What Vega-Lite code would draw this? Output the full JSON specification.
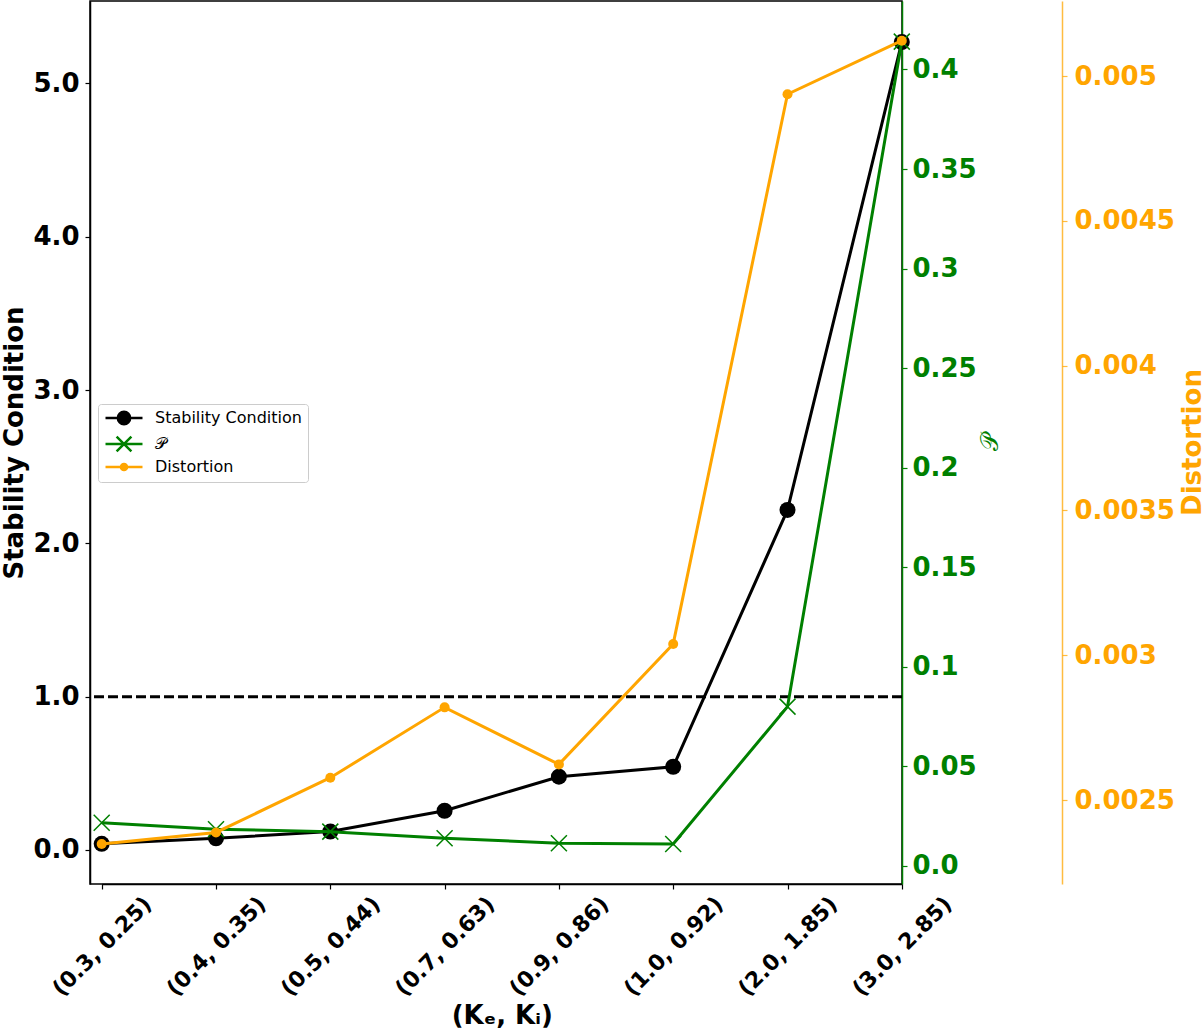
{
  "$schema": "https://vega.github.io/schema/vega-lite/v6.json",
  "width": 812,
  "height": 883,
  "autosize": {"type": "none"},
  "padding": {"left": 90, "top": 1, "right": 302, "bottom": 146},
  "background": "white",
  "datasets": {
    "main": [
      {"pair": "(0.3, 0.25)", "stability": 0.04, "P": 0.0216, "distortion": 0.002348},
      {"pair": "(0.4, 0.35)", "stability": 0.076, "P": 0.0183, "distortion": 0.002388},
      {"pair": "(0.5, 0.44)", "stability": 0.12, "P": 0.0171, "distortion": 0.002577},
      {"pair": "(0.7, 0.63)", "stability": 0.256, "P": 0.0138, "distortion": 0.00282},
      {"pair": "(0.9, 0.86)", "stability": 0.478, "P": 0.0113, "distortion": 0.002623},
      {"pair": "(1.0, 0.92)", "stability": 0.543, "P": 0.0109, "distortion": 0.003039},
      {"pair": "(2.0, 1.85)", "stability": 2.218, "P": 0.0799, "distortion": 0.004937},
      {"pair": "(3.0, 2.85)", "stability": 5.27, "P": 0.414, "distortion": 0.005122}
    ],
    "legend": [
      {"series": "Stability Condition"},
      {"series": "𝒫"},
      {"series": "Distortion"}
    ],
    "threshold": [{"level": 1.0}]
  },
  "config": {
    "font": "DejaVu Sans",
    "view": {"stroke": "black", "strokeWidth": 1.5},
    "axis": {"grid": false, "labelFont": "DejaVu Sans", "titleFont": "DejaVu Sans", "labelFontSize": 26, "labelFontWeight": "bold", "titleFontSize": 26, "titleFontWeight": "bold", "tickSize": 5, "tickWidth": 1.2, "domainWidth": 1.5, "labelOverlap": false, "labelBound": false, "labelFlush": false}
  },
  "layer": [
    {
      "layer": [
        {
          "data": {"name": "threshold"},
          "mark": {"type": "rule", "color": "black", "strokeWidth": 3, "strokeDash": [10, 4]},
          "encoding": {"y": {"field": "level", "type": "quantitative"}}
        },
        {
          "data": {"name": "main"},
          "mark": {"type": "line", "color": "black", "strokeWidth": 3, "point": {"filled": true, "size": 256, "color": "black", "opacity": 1}},
          "encoding": {
            "x": {"field": "pair", "type": "ordinal", "sort": null, "scale": {"type": "point", "padding": 0, "range": [11.7, 811.8]},
              "axis": {"title": "(Kₑ, Kᵢ)", "labelFontSize": 22, "labelAngle": -45, "labelAlign": "center", "labelBaseline": "middle", "labelPadding": 57, "titleY": 131, "titleBaseline": "middle", "domainColor": "black", "tickColor": "black", "labelColor": "black", "titleColor": "black"}},
            "y": {"field": "stability", "type": "quantitative", "scale": {"domain": [-0.222, 5.538], "nice": false, "zero": false},
              "axis": {"title": "Stability Condition", "orient": "left", "values": [0, 1, 2, 3, 4, 5], "format": ".1f", "labelPadding": 6, "titlePadding": 5, "domainColor": "black", "tickColor": "black", "labelColor": "black", "titleColor": "black"}}
          }
        }
      ]
    },
    {
      "data": {"name": "main"},
      "mark": {"type": "line", "color": "#008000", "strokeWidth": 3, "point": {"shape": "M-1,-1L1,1M-1,1L1,-1", "filled": false, "size": 256, "color": "#008000", "strokeWidth": 1.5, "opacity": 1}},
      "encoding": {
        "x": {"field": "pair", "type": "ordinal", "sort": null},
        "y": {"field": "P", "type": "quantitative", "scale": {"domain": [-0.0092, 0.4344], "nice": false, "zero": false},
          "axis": {"title": "𝒫", "orient": "right", "values": [0, 0.05, 0.1, 0.15, 0.2, 0.25, 0.3, 0.35, 0.4], "labelExpr": "datum.value == 0 ? '0.0' : format(datum.value, '.2~f')", "labelPadding": 5, "titleAngle": 270, "titleX": 88, "titleY": 441, "titleAlign": "center", "titleBaseline": "middle", "titleFontWeight": "normal", "titleFont": "DejaVu Serif", "titleFontSize": 24, "domainColor": "#008000", "tickColor": "#008000", "labelColor": "#008000", "titleColor": "#008000"}}
      }
    },
    {
      "data": {"name": "main"},
      "mark": {"type": "line", "color": "#FFA500", "strokeWidth": 3, "point": {"filled": true, "size": 100, "color": "#FFA500", "opacity": 1}},
      "encoding": {
        "x": {"field": "pair", "type": "ordinal", "sort": null},
        "y": {"field": "distortion", "type": "quantitative", "scale": {"domain": [0.00221, 0.005259], "nice": false, "zero": false},
          "axis": {"title": "Distortion", "orient": "right", "offset": 160, "values": [0.0025, 0.003, 0.0035, 0.004, 0.0045, 0.005], "format": ".4~f", "labelPadding": 7, "titleAngle": 270, "titleX": 130, "titleY": 441, "titleAlign": "center", "titleBaseline": "middle", "domainColor": "#FFA500", "domainOpacity": 0.75, "tickColor": "#FFA500", "tickOpacity": 0.75, "labelColor": "#FFA500", "titleColor": "#FFA500"}}
      }
    },
    {
      "data": {"name": "legend"},
      "mark": {"type": "point", "opacity": 0, "filled": true},
      "encoding": {
        "fill": {"field": "series", "type": "nominal", "sort": null,
          "scale": {"domain": ["Stability Condition", "𝒫", "Distortion"], "range": ["black", "#008000", "#FFA500"]},
          "legend": {"orient": "none", "legendX": 8, "legendY": 403, "title": null, "labelFontSize": 16, "labelFont": "DejaVu Sans", "labelColor": "black", "symbolSize": 152, "symbolStrokeWidth": 2.5, "symbolOpacity": 1, "symbolOffset": 12, "labelOffset": 23, "padding": 6, "rowPadding": 1, "strokeColor": "#cccccc", "fillColor": "white", "cornerRadius": 3}},
        "stroke": {"field": "series", "type": "nominal", "sort": null,
          "scale": {"domain": ["Stability Condition", "𝒫", "Distortion"], "range": ["black", "#008000", "#FFA500"]},
          "legend": {"orient": "none", "legendX": 8, "legendY": 403, "title": null, "labelFontSize": 16, "labelFont": "DejaVu Sans", "labelColor": "black", "symbolSize": 152, "symbolStrokeWidth": 2.5, "symbolOpacity": 1, "symbolOffset": 12, "labelOffset": 23, "padding": 6, "rowPadding": 1, "strokeColor": "#cccccc", "fillColor": "white", "cornerRadius": 3}},
        "shape": {"field": "series", "type": "nominal", "sort": null,
          "scale": {"domain": ["Stability Condition", "𝒫", "Distortion"], "range": ["M-3,0L3,0M1,0A1,1,0,1,1,-1,0A1,1,0,1,1,1,0Z", "M-3,0L3,0M-1.2,-1.2L1.2,1.2M-1.2,1.2L1.2,-1.2", "M-3,0L3,0M0.5,0A0.5,0.5,0,1,1,-0.5,0A0.5,0.5,0,1,1,0.5,0Z"]},
          "legend": {"orient": "none", "legendX": 8, "legendY": 403, "title": null, "labelFontSize": 16, "labelFont": "DejaVu Sans", "labelColor": "black", "symbolSize": 152, "symbolStrokeWidth": 2.5, "symbolOpacity": 1, "symbolOffset": 12, "labelOffset": 23, "padding": 6, "rowPadding": 1, "strokeColor": "#cccccc", "fillColor": "white", "cornerRadius": 3}}
      }
    }
  ],
  "resolve": {"scale": {"y": "independent"}, "axis": {"y": "independent"}}
}
